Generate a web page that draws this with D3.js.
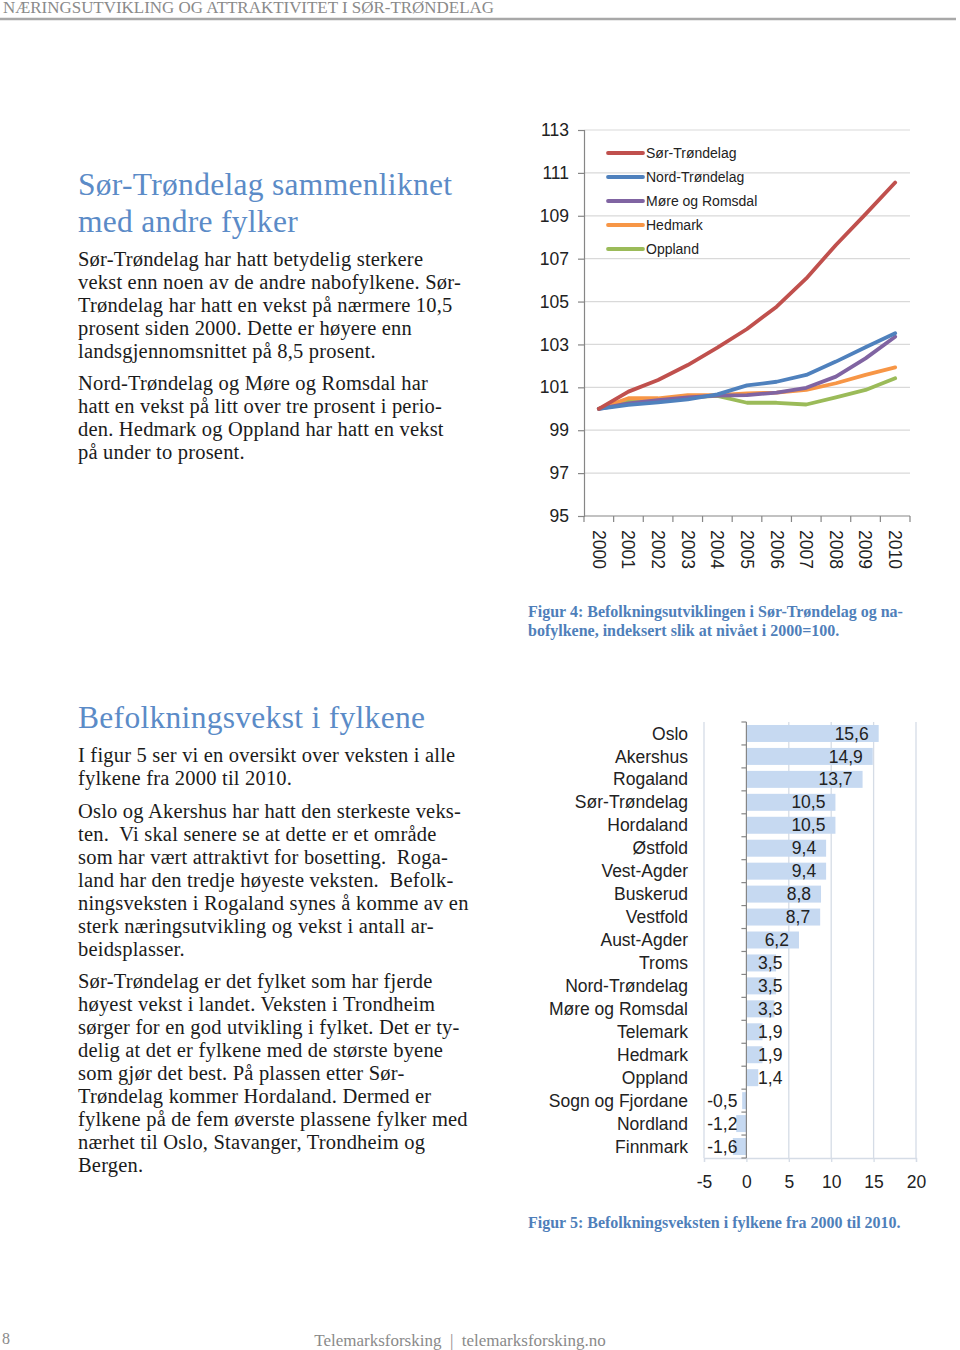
<!DOCTYPE html>
<html>
<head>
<meta charset="utf-8">
<script src="https://cdn.jsdelivr.net/npm/d3@7"></script>
<style>
  html, body { margin: 0; padding: 0; background: #fff; }
  svg { display: block; }
</style>
</head>
<body>
<script>
// ---------- DATA ----------
const years = ["2000","2001","2002","2003","2004","2005","2006","2007","2008","2009","2010"];
const yTicks = [95, 97, 99, 101, 103, 105, 107, 109, 111, 113];
const sorTrondelag = [100, 100.8, 101.34, 102.04, 102.85, 103.72, 104.76, 106.08, 107.64, 109.08, 110.55];
const nordTrondelag = [100, 100.18, 100.3, 100.44, 100.67, 101.09, 101.26, 101.58, 102.2, 102.87, 103.52];
const moreRomsdal = [100, 100.25, 100.4, 100.53, 100.61, 100.64, 100.75, 100.98, 101.5, 102.35, 103.36];
const hedmark = [100, 100.49, 100.49, 100.64, 100.64, 100.72, 100.75, 100.88, 101.19, 101.58, 101.93];
const oppland = [100, 100.41, 100.38, 100.53, 100.6, 100.28, 100.28, 100.2, 100.53, 100.88, 101.42];
const seriesNames = ["Sør-Trøndelag", "Nord-Trøndelag", "Møre og Romsdal", "Hedmark", "Oppland"];
const seriesColors = ["#C0504D", "#4F81BD", "#8064A2", "#F79646", "#9BBB59"];

const counties = ["Oslo","Akershus","Rogaland","Sør-Trøndelag","Hordaland","Østfold","Vest-Agder","Buskerud","Vestfold","Aust-Agder","Troms","Nord-Trøndelag","Møre og Romsdal","Telemark","Hedmark","Oppland","Sogn og Fjordane","Nordland","Finnmark"];
const growth = [15.6, 14.9, 13.7, 10.5, 10.5, 9.4, 9.4, 8.8, 8.7, 6.2, 3.5, 3.5, 3.3, 1.9, 1.9, 1.4, -0.5, -1.2, -1.6];
const barTicks = [-5, 0, 5, 10, 15, 20];

// ---------- TEXT ----------
const headerText = "NÆRINGSUTVIKLING OG ATTRAKTIVITET I SØR-TRØNDELAG";
const title1 = ["Sør-Trøndelag sammenliknet", "med andre fylker"];
const para1 = ["Sør-Trøndelag har hatt betydelig sterkere", "vekst enn noen av de andre nabofylkene. Sør-", "Trøndelag har hatt en vekst på nærmere 10,5", "prosent siden 2000. Dette er høyere enn", "landsgjennomsnittet på 8,5 prosent."];
const para2 = ["Nord-Trøndelag og Møre og Romsdal har", "hatt en vekst på litt over tre prosent i perio-", "den. Hedmark og Oppland har hatt en vekst", "på under to prosent."];
const title2 = ["Befolkningsvekst i fylkene"];
const para3 = ["I figur 5 ser vi en oversikt over veksten i alle", "fylkene fra 2000 til 2010."];
const para4 = ["Oslo og Akershus har hatt den sterkeste veks-", "ten.  Vi skal senere se at dette er et område", "som har vært attraktivt for bosetting.  Roga-", "land har den tredje høyeste veksten.  Befolk-", "ningsveksten i Rogaland synes å komme av en", "sterk næringsutvikling og vekst i antall ar-", "beidsplasser."];
const para5 = ["Sør-Trøndelag er det fylket som har fjerde", "høyest vekst i landet. Veksten i Trondheim", "sørger for en god utvikling i fylket. Det er ty-", "delig at det er fylkene med de største byene", "som gjør det best. På plassen etter Sør-", "Trøndelag kommer Hordaland. Dermed er", "fylkene på de fem øverste plassene fylker med", "nærhet til Oslo, Stavanger, Trondheim og", "Bergen."];
const caption4 = ["Figur 4: Befolkningsutviklingen i Sør-Trøndelag og na-", "bofylkene, indeksert slik at nivået i 2000=100."];
const caption5 = ["Figur 5: Befolkningsveksten i fylkene fra 2000 til 2010."];
const footerText = "Telemarksforsking  |  telemarksforsking.no";

// ---------- SETUP ----------
const W = 960, H = 1350;
const svg = d3.select("body").append("svg").attr("width", W).attr("height", H);
svg.append("rect").attr("width", W).attr("height", H).attr("fill", "#fff");

const SERIF = "'Liberation Serif', 'DejaVu Serif', serif";
const SANS = "'Liberation Sans', Arial, Helvetica, sans-serif";
const BLUE_T = "#5B8BC7";
const BLUE_C = "#4F7FBA";

// header
svg.append("text").attr("x", 3).attr("y", 13)
  .attr("font-family", SERIF).attr("font-size", 16).attr("fill", "#8a8a8a")
  .attr("textLength", 491).attr("lengthAdjust", "spacingAndGlyphs")
  .text(headerText);
svg.append("line").attr("x1", 0).attr("x2", 956).attr("y1", 19).attr("y2", 19)
  .attr("stroke", "#a8a8a8").attr("stroke-width", 2.5);

function lines(arr, x, y0, lh, size, color, opts = {}) {
  const g = svg.append("g");
  arr.forEach((t, i) => {
    g.append("text").attr("x", x).attr("y", y0 + i * lh)
      .attr("font-family", SERIF).attr("font-size", size).attr("fill", color)
      .attr("font-weight", opts.bold ? "bold" : "normal")
      .attr("letter-spacing", opts.ls || 0)
      .style("white-space", "pre")
      .text(t);
  });
}
const TX = 78, BODY = 20.5, LH = 23, INK = "#1b1b1b";
lines(title1, TX, 195, 37, 31.5, BLUE_T, {ls: 0.3});
lines(para1, TX, 266, LH, BODY, INK, {ls: 0.2});
lines(para2, TX, 390, LH, BODY, INK, {ls: 0.2});
lines(title2, TX, 728, 37, 31.5, BLUE_T, {ls: 0.3});
lines(para3, TX, 762, LH, BODY, INK, {ls: 0.2});
lines(para4, TX, 818, LH, BODY, INK, {ls: 0.2});
lines(para5, TX, 988, LH, BODY, INK, {ls: 0.2});
lines(caption4, 528, 617, 19, 16, BLUE_C, {bold: true});
lines(caption5, 528, 1228, 19, 16, BLUE_C, {bold: true});

svg.append("text").attr("x", 2).attr("y", 1344).attr("font-family", SERIF)
  .attr("font-size", 16).attr("fill", "#8a8a8a").text("8");
svg.append("text").attr("x", 460).attr("y", 1346).attr("text-anchor", "middle")
  .attr("font-family", SERIF).attr("font-size", 17).attr("fill", "#8a8a8a")
  .style("white-space", "pre").text(footerText);

// ---------- LINE CHART ----------
const lx = d3.scaleBand().domain(years).range([584, 910]);
const ly = d3.scaleLinear().domain([95, 113]).range([516, 130]);
const lc = svg.append("g");

lc.append("g").selectAll("line").data(yTicks.filter(d => d !== 95)).join("line")
  .attr("x1", 584).attr("x2", 910).attr("y1", d => ly(d)).attr("y2", d => ly(d))
  .attr("stroke", "#d9d9d9").attr("stroke-width", 1.2);

const yAx = lc.append("g").attr("transform", "translate(584,0)")
  .call(d3.axisLeft(ly).tickValues(yTicks).tickSize(6).tickPadding(9).tickFormat(d3.format("d")));
yAx.select(".domain").attr("stroke", "#868686").attr("stroke-width", 1.2);
yAx.selectAll(".tick line").attr("stroke", "#868686").attr("stroke-width", 1.2);
yAx.selectAll(".tick text").attr("font-family", SANS).attr("font-size", 17.5).attr("fill", "#222");

// x axis baseline and ticks at band edges
lc.append("line").attr("x1", 584).attr("x2", 910).attr("y1", 516).attr("y2", 516)
  .attr("stroke", "#868686").attr("stroke-width", 1.2);
const edges = years.map(d => lx(d)).concat([lx(years[years.length - 1]) + lx.bandwidth()]);
lc.append("g").selectAll("line").data(edges).join("line")
  .attr("x1", d => d).attr("x2", d => d).attr("y1", 516).attr("y2", 522)
  .attr("stroke", "#868686").attr("stroke-width", 1.2);
lc.append("g").selectAll("text").data(years).join("text")
  .attr("transform", d => `translate(${lx(d) + lx.bandwidth() / 2},530) rotate(90)`)
  .attr("dy", "0.35em").attr("font-family", SANS).attr("font-size", 17.5).attr("fill", "#222")
  .text(d => d);

const allSeries = [sorTrondelag, nordTrondelag, moreRomsdal, hedmark, oppland];
const lineGen = d3.line().x((d, i) => lx(years[i]) + lx.bandwidth() / 2).y(d => ly(d));
[4, 3, 2, 1, 0].forEach(i => {
  lc.append("path").datum(allSeries[i]).attr("d", lineGen)
    .attr("fill", "none").attr("stroke", seriesColors[i]).attr("stroke-width", 3.8)
    .attr("stroke-linejoin", "round").attr("stroke-linecap", "round");
});

// legend
const leg = lc.append("g");
seriesNames.forEach((n, i) => {
  const yy = 153 + i * 24;
  leg.append("line").attr("x1", 608).attr("x2", 643).attr("y1", yy).attr("y2", yy)
    .attr("stroke", seriesColors[i]).attr("stroke-width", 3.8).attr("stroke-linecap", "round");
  leg.append("text").attr("x", 646).attr("y", yy).attr("dy", "0.35em")
    .attr("font-family", SANS).attr("font-size", 14).attr("fill", "#222").text(n);
});

// ---------- BAR CHART ----------
const bx = d3.scaleLinear().domain([-5, 20]).range([704, 916]);
const by = d3.scaleBand().domain(counties).range([722, 1158]).paddingInner(0.26).paddingOuter(0.13);
const byEdge = d3.scaleBand().domain(counties).range([722, 1158]);
const bc = svg.append("g");
const hyph = v => String(v).replace("−", "-");

bc.append("g").selectAll("line").data(barTicks.filter(d => d !== 0)).join("line")
  .attr("x1", d => bx(d)).attr("x2", d => bx(d)).attr("y1", 722).attr("y2", 1158)
  .attr("stroke", "#d5dce6").attr("stroke-width", 1.3);
const xAx = bc.append("g").attr("transform", "translate(0,1158)")
  .call(d3.axisBottom(bx).tickValues(barTicks).tickSize(4).tickPadding(14).tickFormat(d => hyph(d)));
xAx.select(".domain").attr("stroke", "#d5dce6").attr("stroke-width", 1.3);
xAx.selectAll(".tick line").attr("stroke", "#d5dce6").attr("stroke-width", 1.3);
xAx.selectAll(".tick text").attr("font-family", SANS).attr("font-size", 17.5).attr("fill", "#222");

bc.append("g").selectAll("rect").data(counties).join("rect")
  .attr("x", (d, i) => Math.min(bx(0), bx(growth[i])))
  .attr("width", (d, i) => Math.abs(bx(growth[i]) - bx(0)))
  .attr("y", d => by(d)).attr("height", by.bandwidth())
  .attr("fill", "#C6D9F1");

bc.append("line").attr("x1", bx(0)).attr("x2", bx(0)).attr("y1", 722).attr("y2", 1158)
  .attr("stroke", "#868686").attr("stroke-width", 1.2);
const bEdges = counties.map(d => byEdge(d)).concat([1158]);
bc.append("g").selectAll("line").data(bEdges).join("line")
  .attr("x1", bx(0) - 5).attr("x2", bx(0)).attr("y1", d => d).attr("y2", d => d)
  .attr("stroke", "#868686").attr("stroke-width", 1.2);

bc.append("g").selectAll("text").data(counties).join("text")
  .attr("x", 688).attr("y", d => byEdge(d) + byEdge.bandwidth() / 2).attr("dy", "0.35em")
  .attr("text-anchor", "end").attr("font-family", SANS).attr("font-size", 17.5).attr("fill", "#222")
  .text(d => d);

const fmt = v => hyph(d3.format(".1f")(v)).replace(".", ",");
bc.append("g").selectAll("text").data(counties).join("text")
  .attr("x", (d, i) => growth[i] >= 0 ? Math.max(bx(growth[i]) - 10, bx(0) + 36) : bx(0) - 9)
  .attr("y", d => byEdge(d) + byEdge.bandwidth() / 2).attr("dy", "0.35em")
  .attr("text-anchor", "end").attr("font-family", SANS).attr("font-size", 17.5).attr("fill", "#222")
  .text((d, i) => fmt(growth[i]));
</script>
</body>
</html>
